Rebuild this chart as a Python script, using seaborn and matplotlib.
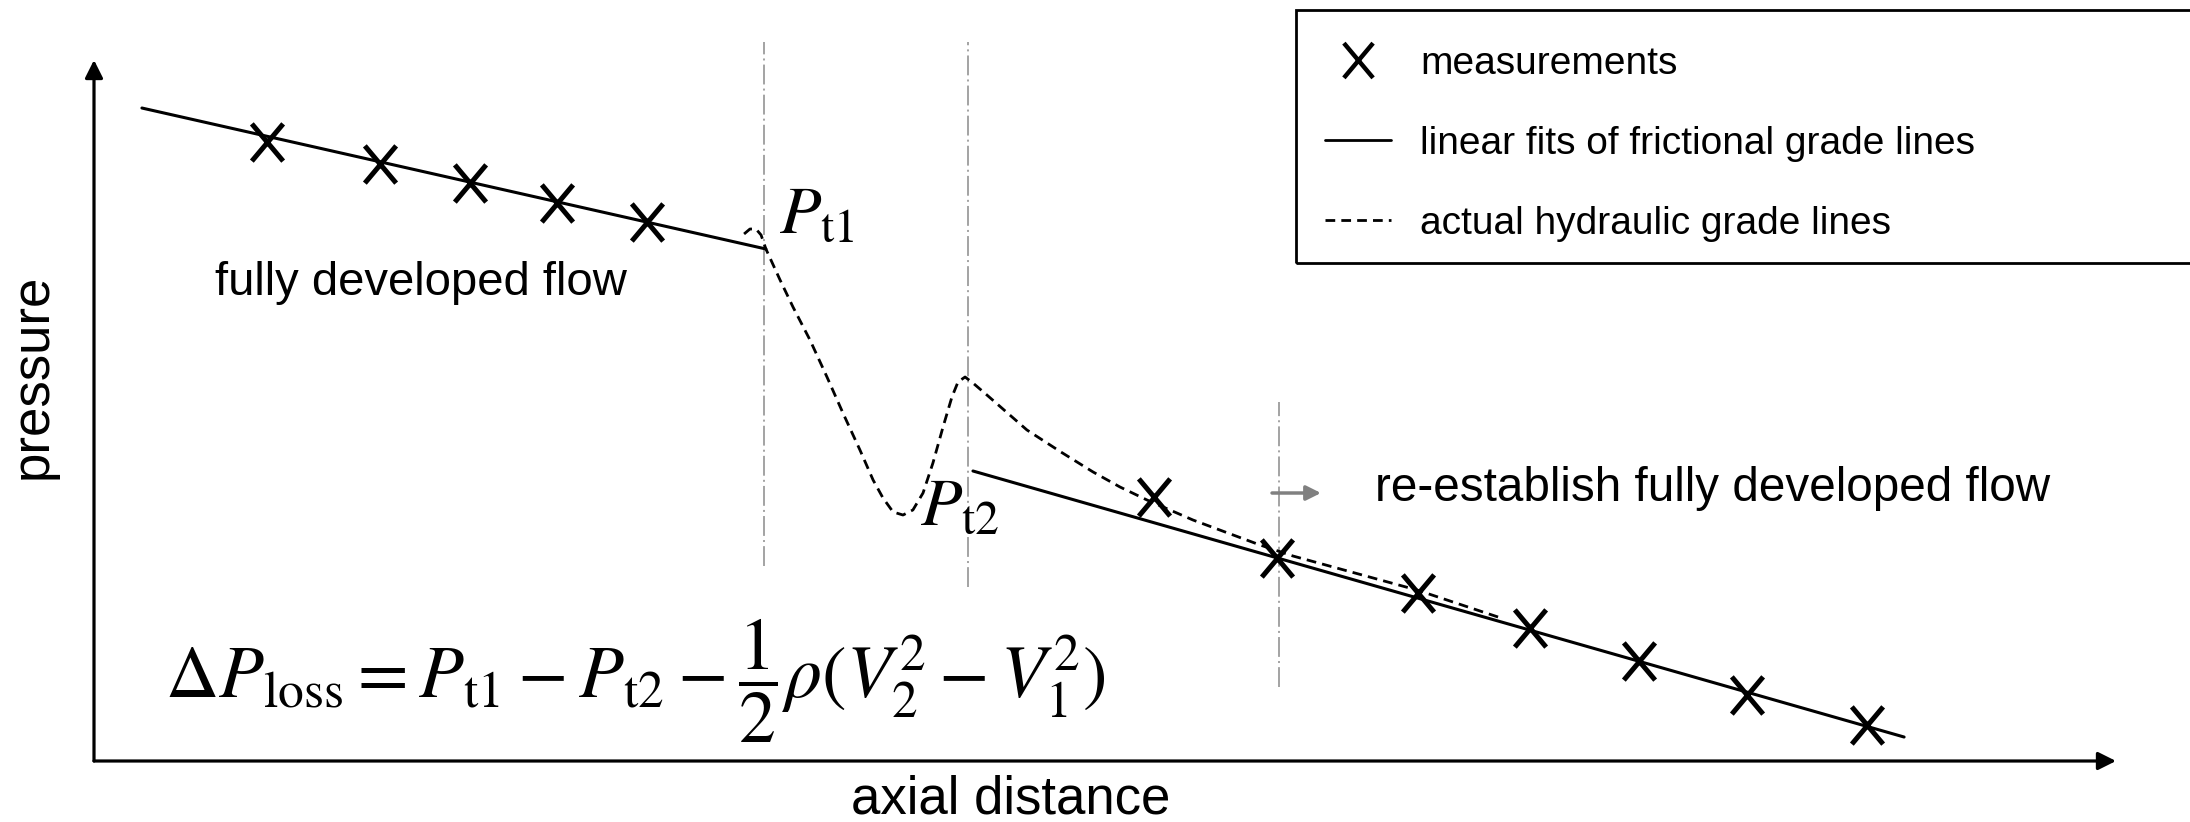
import matplotlib
matplotlib.use("Agg")
import matplotlib.pyplot as plt
import seaborn as sns
from matplotlib.path import Path
from matplotlib.lines import Line2D
from matplotlib.patches import Rectangle

# ---- schematic values (axial distance / pressure, arbitrary units 0-100) ----
meas_up_x = [8.58, 14.14, 18.58, 22.89, 27.37]
meas_up_y = [88.35, 85.16, 82.50, 79.64, 76.93]
meas_down_x = [52.42, 58.51, 65.48, 71.02, 76.41, 81.75, 87.69]
meas_down_y = [37.66, 28.96, 23.97, 18.97, 14.27, 9.42, 5.14]

fit_up_x = [2.37, 33.23]
fit_up_y = [93.15, 73.04]
fit_down_x = [43.47, 89.52]
fit_down_y = [41.37, 3.42]

hgl_x = [32.15, 32.44, 32.74, 32.99, 33.23, 33.93, 34.57, 35.41, 36.25, 37.04,
         37.88, 38.53, 39.02, 39.52, 40.01, 40.50, 41.00, 41.49, 41.99, 42.43,
         42.73, 43.08, 43.47, 44.16, 46.14, 47.82, 49.41, 50.74, 52.08, 54.35,
         57.67, 59.30, 65.43, 69.44]
hgl_y = [75.18, 75.89, 75.89, 75.04, 73.04, 68.62, 64.76, 60.06, 54.78, 49.64,
         44.37, 40.09, 37.52, 35.52, 35.09, 35.81, 38.23, 42.51, 47.65, 51.93,
         54.07, 54.78, 53.92, 52.21, 47.22, 44.08, 41.23, 39.09, 37.23, 34.38,
         30.81, 29.24, 24.39, 20.54]

section_x = [33.14, 43.22, 58.61]
section_top = [102.6, 102.6, 51.2]
section_bottom = [27.8, 24.8, 10.6]

legend_labels = ["measurements",
                 "linear fits of frictional grade lines",
                 "actual hydraulic grade lines"]

# ---- style ----
sns.set_theme(style="white")
plt.rcParams["font.family"] = ["Liberation Sans", "DejaVu Sans"]
plt.rcParams["mathtext.fontset"] = "stix"
plt.rcParams["text.color"] = "black"

W, H = 2190, 822
fig = plt.figure(figsize=(W / 100, H / 100), dpi=100)
ax = fig.add_axes([94 / W, 61 / H, (2116 - 94) / W, (761 - 60) / H])
ax.set_xlim(0, 100)
ax.set_ylim(0, 100)
ax.axis("off")

# "X" shaped measurement marker
hw = 0.42
cross = Path([(-hw, -0.5), (hw, 0.5), (-hw, 0.5), (hw, -0.5)],
             [Path.MOVETO, Path.LINETO, Path.MOVETO, Path.LINETO])

dash = (0, (3.5, 2.2))

# axis arrows
arrow_kw = dict(arrowstyle="-|>", color="black", lw=2.3, mutation_scale=27,
                shrinkA=0, shrinkB=0)
ax.annotate("", xy=(1, 0), xytext=(0, 0), xycoords="axes fraction",
            textcoords="axes fraction", arrowprops=arrow_kw)
ax.annotate("", xy=(0, 1), xytext=(0, 0), xycoords="axes fraction",
            textcoords="axes fraction", arrowprops=arrow_kw)

# section markers
ax.vlines(section_x, section_bottom, section_top, colors="#8a8a8a", lw=1.1,
          linestyles=[(0, (13, 2.7, 1.3, 2.7))], clip_on=False)

# frictional grade lines (linear fits)
sns.lineplot(x=fit_up_x, y=fit_up_y, ax=ax, color="black", lw=2.2,
             sort=False, estimator=None)
sns.lineplot(x=fit_down_x, y=fit_down_y, ax=ax, color="black", lw=2.2,
             sort=False, estimator=None)

# actual hydraulic grade line
sns.lineplot(x=hgl_x, y=hgl_y, ax=ax, color="black", lw=2.0,
             linestyle=dash, sort=False, estimator=None)

# measurements
for mx, my in ((meas_up_x, meas_up_y), (meas_down_x, meas_down_y)):
    sns.scatterplot(x=mx, y=my, ax=ax, marker=cross, s=720, color="black",
                    edgecolor="black", linewidth=3.6, zorder=5, clip_on=False)

# annotations
ax.text(5.98, 66.48, "fully developed flow", fontsize=34, va="baseline", ha="left")
ax.text(63.35, 37.13, "re-establish fully developed flow", fontsize=34.3,
        va="baseline", ha="left")
ax.annotate("", xy=(60.68, 38.23), xytext=(58.26, 38.23),
            arrowprops=dict(arrowstyle="-|>", color="#808080", lw=2.5,
                            mutation_scale=22, shrinkA=0, shrinkB=0))
ax.text(33.88, 75.32, r"$P_{\mathrm{t1}}$", fontsize=49, va="baseline", ha="left")
ax.text(40.85, 33.67, r"$P_{\mathrm{t2}}$", fontsize=49, va="baseline", ha="left")
ax.text(3.5, 9.0,
        r"$\mathit{\Delta} P_{\mathrm{loss}} = P_{\mathrm{t1}} - P_{\mathrm{t2}} - "
        r"\dfrac{1}{2}\rho(V_2^2 - V_1^2)$",
        fontsize=53, va="baseline", ha="left")

# axis titles
fig.text(1011 / W, 1 - 813 / H, "axial distance", fontsize=38,
         ha="center", va="baseline")
fig.text(47 / W, 1 - 376 / H, "pressure", fontsize=38, rotation=90,
         rotation_mode="anchor", ha="center", va="baseline")

# legend inside an open-ended frame
handles = [
    Line2D([], [], marker=cross, markersize=25, markeredgewidth=3.2,
           color="black", linestyle="none"),
    Line2D([], [], color="black", lw=2.0),
    Line2D([], [], color="black", lw=2.0, linestyle=dash),
]
fig.legend(handles, legend_labels, loc="upper left",
           bbox_to_anchor=(1325 / W, 1 - 46 / H), frameon=False, fontsize=28,
           handlelength=1.7, handletextpad=0.75, labelspacing=1.13,
           borderpad=0, borderaxespad=0)
fig.add_artist(Rectangle((1296 / W, 1 - 263 / H), 0.5, (263 - 10) / H,
                         transform=fig.transFigure, fill=False, lw=2.0,
                         edgecolor="black"))

fig.savefig("out.png", dpi=100)
